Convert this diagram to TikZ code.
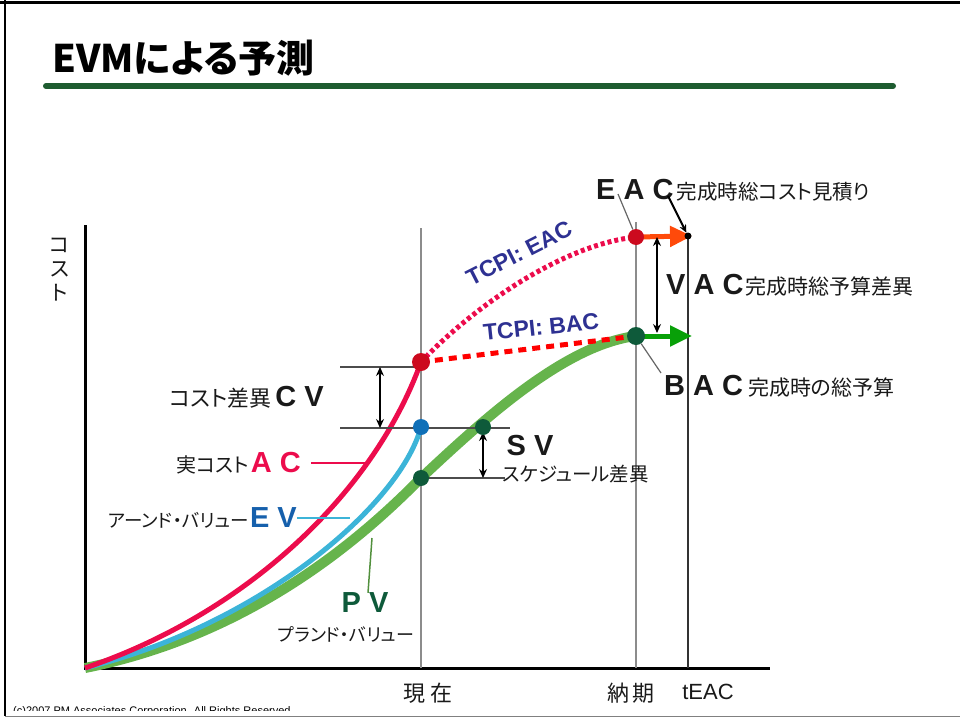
\documentclass[tikz,border=0pt]{standalone}
\usepackage{fontspec}
\setmainfont{Liberation Sans}
\newfontfamily\jp[RawFeature=+palt]{Noto Sans CJK JP}
\usetikzlibrary{arrows.meta}
\definecolor{acred}{HTML}{EC0C4C}
\definecolor{evcyan}{HTML}{3CB4D8}
\definecolor{pvgreen}{HTML}{66B44C}
\definecolor{dkgreen}{HTML}{0E5A3A}
\definecolor{evblue}{HTML}{1660AC}
\definecolor{tcpiblue}{HTML}{2E3192}
\definecolor{titlegreen}{HTML}{1E5C30}
\definecolor{eacorange}{HTML}{FF4A0A}
\definecolor{bacgreen}{HTML}{08A008}
\definecolor{dotred}{HTML}{CC0A1E}
\definecolor{dotblue}{HTML}{1070B8}
\newcommand{\jtxt}[2][19]{{\jp\fontsize{#1}{#1}\selectfont #2}}
\newcommand{\bigtxt}[1]{{\fontsize{29}{29}\selectfont\bfseries #1}}
\tikzset{
  vline/.style={draw=black!45,line width=1.2pt},
  gapline/.style={draw=black!70,line width=2pt},
  dimarrow/.style={{Stealth[length=9pt,width=8pt]}-{Stealth[length=9pt,width=8pt]},line width=1.2pt},
  ptdot/.style={circle,inner sep=0pt,minimum size=#1},
  fwdarrow/.style={line width=5pt,-{Triangle[length=22pt,width=20pt]}},
  lbl/.style={inner sep=0pt,text=black!90},
}
\begin{document}
\begin{tikzpicture}[x=1pt,y=-1pt]
\useasboundingbox (0,0) rectangle (960,720);
% slide frame and title
\draw[line width=3pt] (0,2) -- (960,2);
\draw[line width=2pt] (5,0) -- (5,716);
\draw[black!50,line width=1pt] (5,716) -- (960,716);
\node[anchor=west,inner sep=0pt,font=\jp\bfseries\fontsize{38}{38}\selectfont] (title) at (52,58) {EVMによる予測};
\coordinate (ulA) at (46,86);
\coordinate (ulB) at (893,86);
\draw[titlegreen,line width=6pt,line cap=round] (ulA) -- (ulB);

% axes
\coordinate (o) at (85,668);
\coordinate (ytop) at (85,225);
\coordinate (xend) at (770,668);
\draw[line width=3pt] (ytop) -- (o) -- (xend);
\node[lbl,align=center,font=\jp\fontsize{21}{24}\selectfont] (ylbl) at (60,270) {コ\\ス\\ト};

% time lines
\coordinate (now) at (421,668);
\coordinate (nowtop) at (421,228);
\coordinate (due) at (636,668);
\coordinate (duetop) at (636,222);
\coordinate (teac) at (688,668);
\coordinate (eacend) at (688,236);
\draw[vline] (nowtop) -- (now);
\draw[vline] (duetop) -- (due);
\draw[black!80,line width=2pt] (eacend) -- (teac);
\node[lbl,font=\jp\fontsize{22}{22}\selectfont] (nowlbl) at (428,693) {現\hspace{5pt}在};
\node[lbl,font=\jp\fontsize{22}{22}\selectfont] (duelbl) at (631,693) {納\,期};
\node[lbl,font=\fontsize{22}{22}\selectfont] (teaclbl) at (708,692) {tEAC};

% key points
\coordinate (acnow) at (421,362);
\coordinate (evnow) at (421,427);
\coordinate (pvnow) at (421,478);
\coordinate (svpt) at (483,427);
\coordinate (eacpt) at (636,237);
\coordinate (bacpt) at (636,336);

% curves
\draw[pvgreen,line width=10pt] (o) .. controls (250,635) and (360,540) .. (pvnow)
  .. controls (485,418) and (565,345) .. (bacpt);
\draw[evcyan,line width=5pt] (o) .. controls (260,625) and (400,505) .. (evnow);
\draw[acred,line width=5pt] (o) .. controls (250,612) and (375,490) .. (acnow);

% forecasts
\draw[acred,line width=5pt,dash pattern=on 4pt off 3pt] (acnow) .. controls (470,310) and (560,245) .. (eacpt);
\draw[red,line width=5pt,dash pattern=on 8pt off 6pt] (acnow) -- (bacpt);
\draw[eacorange,fwdarrow] (eacpt) -- (692,236);
\draw[bacgreen,fwdarrow] (bacpt) -- (692,336);
\node[lbl,text=tcpiblue,rotate=27,font=\fontsize{23}{23}\selectfont\bfseries] (tcpieac) at (519,253) {TCPI: EAC};
\node[lbl,text=tcpiblue,rotate=6,font=\fontsize{23}{23}\selectfont\bfseries] (tcpibac) at (541,327) {TCPI: BAC};

% variances
\coordinate (cvA) at (340,367);
\coordinate (cvB) at (421,367);
\coordinate (cvC) at (340,428);
\coordinate (cvD) at (510,428);
\coordinate (svA) at (505,478);
\draw[gapline] (cvA) -- (cvB);
\draw[gapline] (cvC) -- (cvD);
\draw[gapline] (pvnow) -- (svA);
\coordinate (cvtop) at (380,367);
\coordinate (cvbot) at (380,428);
\draw[dimarrow] (cvtop) -- (cvbot);
\coordinate (svtop) at (483,432);
\coordinate (svbot) at (483,478);
\draw[dimarrow] (svtop) -- (svbot);
\coordinate (vactop) at (657,237);
\coordinate (vacbot) at (657,333);
\draw[dimarrow] (vactop) -- (vacbot);

% dots
\node[ptdot=18pt,fill=dotred] (acdot) at (acnow) {};
\node[ptdot=16pt,fill=dotblue] (evdot) at (evnow) {};
\node[ptdot=16pt,fill=dkgreen] (pvdot) at (pvnow) {};
\node[ptdot=16pt,fill=dkgreen] (svdot) at (svpt) {};
\node[ptdot=16pt,fill=dotred] (eacdot) at (eacpt) {};
\node[ptdot=18pt,fill=dkgreen] (bacdot) at (bacpt) {};
\node[ptdot=7pt,fill=black] (teacdot) at (eacend) {};

% labels left
\node[lbl,anchor=east] (cvlbl) at (324,397) {\jtxt[22]{コスト差異}\hspace{4pt}\bigtxt{C V}};
\node[lbl,anchor=east] (aclbl) at (301,463) {\jtxt[20]{実コスト}\,\textcolor{acred}{\bigtxt{A C}}};
\node[lbl,anchor=east] (evlbl) at (297,518) {\jtxt[18.5]{アーンド・バリュー}\,\textcolor{evblue}{\bigtxt{E V}}};
\node[lbl,text=dkgreen] (pvlbl) at (365,603) {\bigtxt{P V}};
\node[lbl] (pvsub) at (346,634) {\jtxt[18]{プランド・バリュー}};
\coordinate (acleader) at (366,463);
\coordinate (evleader) at (350,518);
\coordinate (pvleader) at (372,538);
\draw[acred,line width=1.5pt] ([xshift=10pt]aclbl.east) -- (acleader);
\draw[evcyan,line width=1.5pt] (evlbl.east) -- (evleader);
\draw[pvgreen!80!black,line width=1.5pt] ([xshift=3pt]pvlbl.north) -- (pvleader);

% labels right
\node[lbl] (svlbl) at (530,446) {\bigtxt{S V}};
\node[lbl,anchor=west] (svsub) at (502,474) {\jtxt[19.5]{スケジュール差異}};
\node[lbl,anchor=west] (eaclbl) at (596,190) {\bigtxt{E A C}\hspace{3pt}\jtxt[20.5]{完成時総コスト見積り}};
\node[lbl,anchor=west] (vaclbl) at (666,285) {\bigtxt{V A C}\hspace{2pt}\jtxt[21]{完成時総予算差異}};
\node[lbl,anchor=west] (baclbl) at (664,386) {\bigtxt{B A C}\hspace{5pt}\jtxt[21]{完成時の総予算}};
\coordinate (eacleadA) at (618,194);
\coordinate (bacleadB) at (661,373);
\draw[black!60,line width=1.2pt] (eacleadA) -- (eacdot);
\draw[black!60,line width=1.2pt] (bacdot) -- (bacleadB);
\coordinate (eacarrA) at (668,196);
\draw[line width=2pt,-{Stealth[length=8pt,width=7pt]}] (eacarrA) -- (teacdot);

% footer
\begin{scope}
\clip (0,0) rectangle (960,710);
\node[anchor=base west,inner sep=0pt,font=\fontsize{11}{11}\selectfont] (copyr) at (13,714) {(c)2007 PM Associates Corporation. All Rights Reserved.};
\end{scope}
\end{tikzpicture}
\end{document}
